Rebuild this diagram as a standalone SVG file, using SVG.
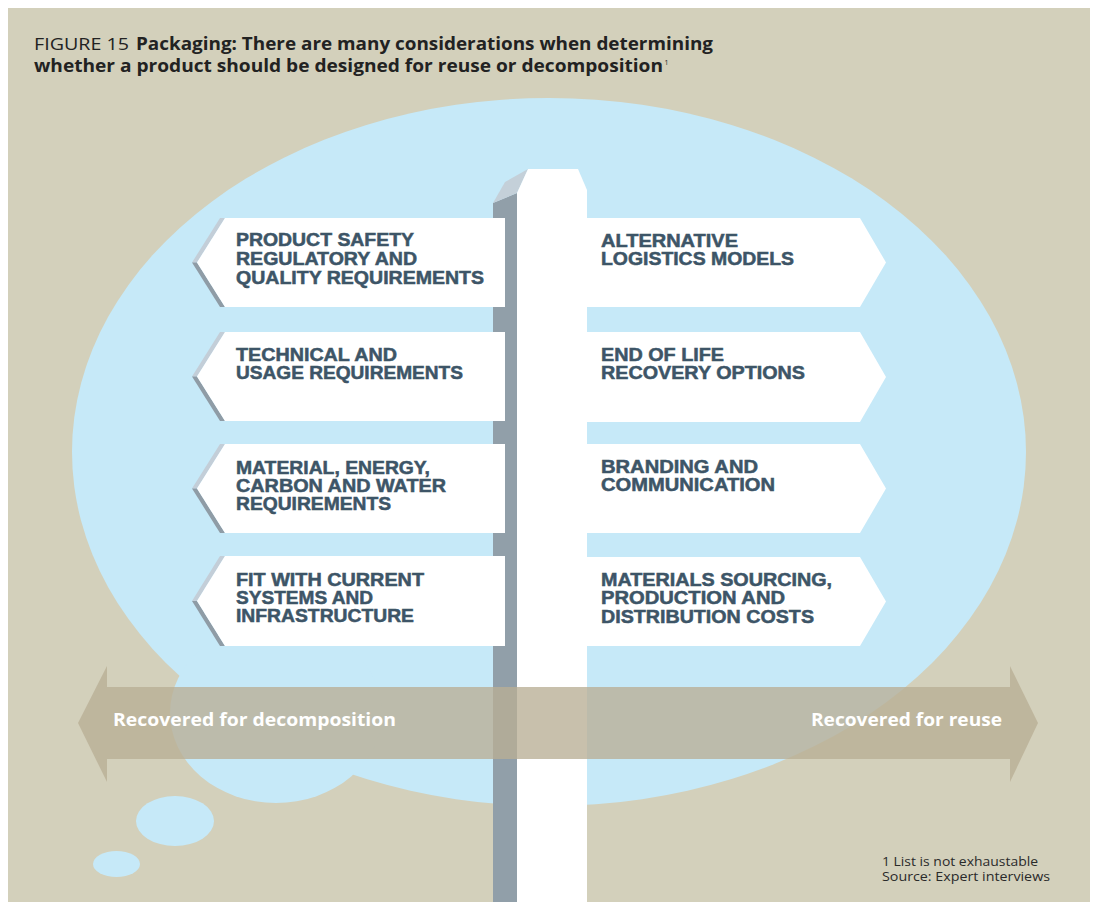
<svg xmlns="http://www.w3.org/2000/svg" width="1096" height="902" viewBox="0 0 1096 902">
<defs>
<style>
.bg{fill:#d3d0bb}
.cloud{fill:#c6e9f8}
.sign{fill:#ffffff}
.shl{fill:#c3ced8}
.shd{fill:#8f9ca6}
.st{font-family:"Liberation Sans",Arial,sans-serif;font-weight:700;font-size:17.5px;fill:#3d5567;stroke:#3d5567;stroke-width:0.5px}
.title{font-family:"Open Sans","Liberation Sans",sans-serif;font-size:17px;fill:#222222}
.sup{font-family:"Open Sans","Liberation Sans",sans-serif;font-size:7px;fill:#222222}
.lbl{font-family:"Open Sans","Liberation Sans",sans-serif;font-weight:700;font-size:17.5px;fill:#ffffff}
.note{font-family:"Open Sans","Liberation Sans",sans-serif;font-size:12.5px;fill:#2a2a2a}
</style>
</defs>
<rect x="0" y="0" width="1096" height="902" fill="#ffffff"/>
<rect class="bg" x="8" y="8" width="1082" height="894"/>

<g id="cloud">
<ellipse class="cloud" cx="549" cy="452" rx="477" ry="354"/>
<ellipse class="cloud" cx="276" cy="713" rx="106" ry="90"/>
<ellipse class="cloud" cx="175" cy="821" rx="39" ry="25"/>
<ellipse class="cloud" cx="116.5" cy="864" rx="23.5" ry="13"/>
</g>

<g id="title">
<text class="title" x="34" y="50" textLength="95" lengthAdjust="spacingAndGlyphs" font-weight="400">FIGURE 15</text>
<text class="title" x="136" y="50" textLength="577" lengthAdjust="spacingAndGlyphs" font-weight="700">Packaging: There are many considerations when determining</text>
<text class="title" x="34" y="72" textLength="629" lengthAdjust="spacingAndGlyphs" font-weight="700">whether a product should be designed for reuse or decomposition</text>
<text class="sup" x="664.5" y="65">1</text>
</g>

<g id="post">
<polygon fill="#919fa9" points="493,203 517,193 517,902 493,902"/>
<polygon fill="#c4d0d9" points="493,203 505,182 528,169 517,193"/>
<polygon fill="#ffffff" points="528,169 578,169 587,190 587,902 517,902 517,193"/>
</g>

<g id="sign-left-1">
<polygon class="shl" points="225,218 220,218 192,262.5 197,262.5"/>
<polygon class="shd" points="192,262.5 197,262.5 225,307 220,307"/>
<polygon class="sign" points="225,218 505,218 505,307 225,307 197,262.5"/>
<text class="st" x="236" y="246" textLength="178" lengthAdjust="spacingAndGlyphs">PRODUCT SAFETY</text>
<text class="st" x="236" y="265" textLength="181" lengthAdjust="spacingAndGlyphs">REGULATORY AND</text>
<text class="st" x="236" y="283.5" textLength="248" lengthAdjust="spacingAndGlyphs">QUALITY REQUIREMENTS</text>
</g>
<g id="sign-left-2">
<polygon class="shl" points="225,332 220,332 192,376.5 197,376.5"/>
<polygon class="shd" points="192,376.5 197,376.5 225,421 220,421"/>
<polygon class="sign" points="225,332 505,332 505,421 225,421 197,376.5"/>
<text class="st" x="236" y="360.5" textLength="161" lengthAdjust="spacingAndGlyphs">TECHNICAL AND</text>
<text class="st" x="236" y="379" textLength="227" lengthAdjust="spacingAndGlyphs">USAGE REQUIREMENTS</text>
</g>
<g id="sign-left-3">
<polygon class="shl" points="225,444 220,444 192,488.5 197,488.5"/>
<polygon class="shd" points="192,488.5 197,488.5 225,533 220,533"/>
<polygon class="sign" points="225,444 505,444 505,533 225,533 197,488.5"/>
<text class="st" x="236" y="473.5" textLength="194" lengthAdjust="spacingAndGlyphs">MATERIAL, ENERGY,</text>
<text class="st" x="236" y="491.5" textLength="210" lengthAdjust="spacingAndGlyphs">CARBON AND WATER</text>
<text class="st" x="236" y="509.5" textLength="155" lengthAdjust="spacingAndGlyphs">REQUIREMENTS</text>
</g>
<g id="sign-left-4">
<polygon class="shl" points="225,556 220,556 192,601 197,601"/>
<polygon class="shd" points="192,601 197,601 225,646 220,646"/>
<polygon class="sign" points="225,556 505,556 505,646 225,646 197,601"/>
<text class="st" x="236" y="585.5" textLength="188" lengthAdjust="spacingAndGlyphs">FIT WITH CURRENT</text>
<text class="st" x="236" y="603.5" textLength="137" lengthAdjust="spacingAndGlyphs">SYSTEMS AND</text>
<text class="st" x="236" y="622" textLength="178" lengthAdjust="spacingAndGlyphs">INFRASTRUCTURE</text>
</g>

<g id="sign-right-1">
<polygon class="sign" points="586,218 860,218 886,262.5 860,307 586,307"/>
<text class="st" x="601" y="246.5" textLength="137" lengthAdjust="spacingAndGlyphs">ALTERNATIVE</text>
<text class="st" x="601" y="265" textLength="193" lengthAdjust="spacingAndGlyphs">LOGISTICS MODELS</text>
</g>
<g id="sign-right-2">
<polygon class="sign" points="586,332 860,332 886,377 860,422 586,422"/>
<text class="st" x="601" y="361.3" textLength="123" lengthAdjust="spacingAndGlyphs">END OF LIFE</text>
<text class="st" x="601" y="379.3" textLength="204" lengthAdjust="spacingAndGlyphs">RECOVERY OPTIONS</text>
</g>
<g id="sign-right-3">
<polygon class="sign" points="586,444 860,444 886,488.5 860,533 586,533"/>
<text class="st" x="601" y="473" textLength="157" lengthAdjust="spacingAndGlyphs">BRANDING AND</text>
<text class="st" x="601" y="491.4" textLength="174" lengthAdjust="spacingAndGlyphs">COMMUNICATION</text>
</g>
<g id="sign-right-4">
<polygon class="sign" points="586,557 860,557 886,601.5 860,646 586,646"/>
<text class="st" x="601" y="586" textLength="231" lengthAdjust="spacingAndGlyphs">MATERIALS SOURCING,</text>
<text class="st" x="601" y="604.3" textLength="184" lengthAdjust="spacingAndGlyphs">PRODUCTION AND</text>
<text class="st" x="601" y="622.7" textLength="213" lengthAdjust="spacingAndGlyphs">DISTRIBUTION COSTS</text>
</g>

<g id="connectors">
<polygon fill="#b8ae95" fill-opacity="0.78" points="78,723 107,666 107,687 1010,687 1010,666 1038,723 1010,782 1010,759 107,759 107,782"/>
</g>
<g id="arrow-labels">
<text class="lbl" x="113" y="726" textLength="283" lengthAdjust="spacingAndGlyphs">Recovered for decomposition</text>
<text class="lbl" x="811" y="726" textLength="191" lengthAdjust="spacingAndGlyphs">Recovered for reuse</text>
</g>

<g id="footnote">
<text class="note" x="882" y="865.5" textLength="156" lengthAdjust="spacingAndGlyphs">1 List is not exhaustable</text>
<text class="note" x="882" y="880.7" textLength="168" lengthAdjust="spacingAndGlyphs">Source: Expert interviews</text>
</g>
</svg>
